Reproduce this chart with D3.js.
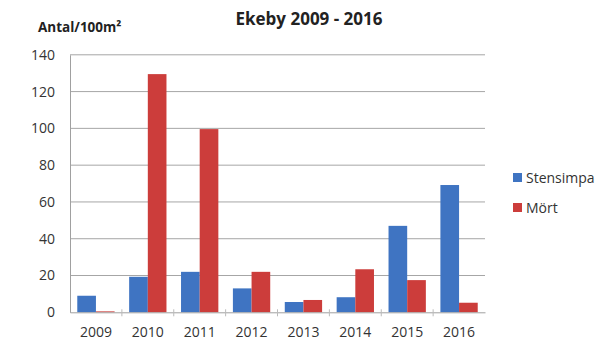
<!DOCTYPE html>
<html>
<head>
<meta charset="utf-8">
<script src="https://cdn.jsdelivr.net/npm/d3@7"></script>
<style>
  body { margin: 0; background: #fff; }
  text { font-family: "Open Sans", "Noto Sans", sans-serif; }
</style>
</head>
<body>
<svg id="chart"></svg>
<script>
// values
const years = ["2009", "2010", "2011", "2012", "2013", "2014", "2015", "2016"];
const stensimpa = [9, 19.3, 22, 13, 5.6, 8.2, 47, 69.2];
const mort = [0.5, 129.5, 99.6, 22, 6.7, 23.4, 17.5, 5.2];
const yTicks = [0, 20, 40, 60, 80, 100, 120, 140];
const seriesNames = ["Stensimpa", "Mört"];

let layout = {"width": 597,
              "height": 345,
              "left": 70,
              "right": 485,
              "top": 54.8,
              "bottom": 312.3};

let svg = d3.select("#chart")
  .attr("width", layout.width)
  .attr("height", layout.height);

let xScale = d3.scaleBand()
  .domain(years)
  .range([layout.left, layout.right]);

let inner = d3.scaleBand()
  .domain(seriesNames)
  .range([0, xScale.bandwidth()])
  .paddingOuter(0.39)
  .paddingInner(0);

let yScale = d3.scaleLinear()
  .domain([0, 140])
  .range([layout.bottom, layout.top]);

let colorScale = d3.scaleOrdinal()
  .domain(seriesNames)
  .range(["#3f74c2", "#cc3d3b"]);

// gridlines
svg.append("g")
  .selectAll("line")
  .data(yTicks.filter(d => d > 0))
  .join("line")
  .attr("x1", layout.left)
  .attr("x2", layout.right)
  .attr("y1", d => yScale(d))
  .attr("y2", d => yScale(d))
  .attr("stroke", "#a6a6a6")
  .attr("stroke-width", 1);

// y axis
let yAxis = svg.append("g")
  .attr("transform", `translate(${layout.left},0)`)
  .call(d3.axisLeft(yScale).tickValues(yTicks).tickSize(0).tickPadding(15));
yAxis.select(".domain").attr("stroke", "#a0a0a0");
yAxis.selectAll("text")
  .attr("font-size", 14)
  .attr("fill", "#333")
  .attr("font-family", "Open Sans, sans-serif");

// bars
let rows = years.map((y, i) => ({year: y, Stensimpa: stensimpa[i], "Mört": mort[i]}));

svg.append("g")
  .selectAll("g")
  .data(rows)
  .join("g")
  .attr("transform", d => `translate(${xScale(d.year)},0)`)
  .selectAll("rect")
  .data(d => seriesNames.map(s => ({key: s, value: d[s]})))
  .join("rect")
  .attr("x", d => inner(d.key))
  .attr("width", inner.bandwidth())
  .attr("y", d => yScale(d.value))
  .attr("height", d => yScale(0) - yScale(d.value))
  .attr("fill", d => colorScale(d.key));

// x axis
let xAxis = svg.append("g")
  .attr("transform", `translate(0,${layout.bottom})`)
  .call(d3.axisBottom(xScale).tickSize(0).tickPadding(15));
xAxis.select(".domain").attr("stroke", "#a0a0a0");
xAxis.selectAll("text")
  .attr("font-size", 14)
  .attr("fill", "#333")
  .attr("font-family", "Open Sans, sans-serif");
xAxis.selectAll(".sep")
  .data(years.slice(1))
  .join("line")
  .attr("class", "sep")
  .attr("x1", d => xScale(d))
  .attr("x2", d => xScale(d))
  .attr("y1", -3)
  .attr("y2", 4)
  .attr("stroke", "#bbb");

// titles
svg.append("text")
  .attr("x", 309)
  .attr("y", 25)
  .attr("text-anchor", "middle")
  .attr("font-size", 17)
  .attr("font-weight", "bold")
  .attr("fill", "#222")
  .text("Ekeby 2009 - 2016");

svg.append("text")
  .attr("x", 38)
  .attr("y", 32)
  .attr("font-size", 13.5)
  .attr("font-weight", "bold")
  .attr("fill", "#222")
  .text("Antal/100m²");

// legend
let legend = svg.append("g");
legend.selectAll("rect")
  .data(seriesNames)
  .join("rect")
  .attr("x", 513)
  .attr("y", (d, i) => 173 + 30 * i)
  .attr("width", 9)
  .attr("height", 9)
  .attr("fill", d => colorScale(d));
legend.selectAll("text")
  .data(seriesNames)
  .join("text")
  .attr("x", 526)
  .attr("y", (d, i) => 182.5 + 30 * i)
  .attr("font-size", 14)
  .attr("fill", "#333")
  .text(d => d);
</script>
</body>
</html>
